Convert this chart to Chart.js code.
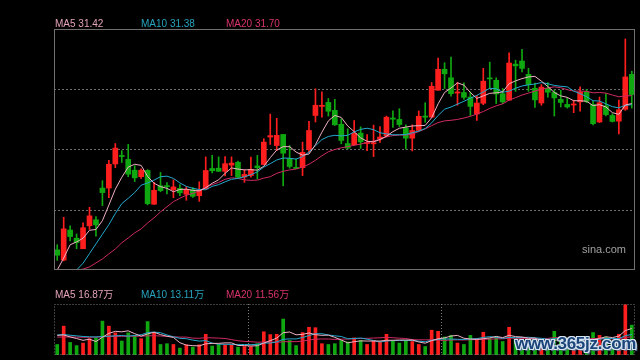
<!DOCTYPE html>
<html>
<head>
<meta charset="utf-8">
<script src="https://cdn.jsdelivr.net/npm/chart.js@4.4.1/dist/chart.umd.min.js"></script>
<style>
html,body{margin:0;padding:0;background:#000;}
#wrap{position:relative;width:640px;height:360px;overflow:hidden;background:#000;font-family:"Liberation Sans",Arial,"Noto Sans CJK SC",sans-serif;}
canvas{position:absolute;left:0;}
#main{top:0;}
#vol{top:285px;}
.lg{position:absolute;font-size:10px;line-height:10px;white-space:nowrap;}
.c5{color:#e3a2b6;} .c10{color:#27a3bd;} .c20{color:#d8336c;}
#sina{position:absolute;left:582px;top:244px;font-size:11px;line-height:11px;color:#a0a0a0;}
#mark{position:absolute;left:515px;top:335px;font:bold 17px "Liberation Sans",Arial,sans-serif;line-height:18px;color:#1b4478;letter-spacing:-0.3px;
  text-shadow:1px 1px 0 #d5e3f1,-1px -1px 0 #d5e3f1,1px -1px 0 #d5e3f1,-1px 1px 0 #d5e3f1,0 1px 0 #d5e3f1,0 -1px 0 #d5e3f1,1px 0 0 #d5e3f1,-1px 0 0 #d5e3f1,2px 2px 1px #5a7390;}
</style>
</head>
<body>
<div id="wrap">
  <canvas id="main" width="640" height="280"></canvas>
  <canvas id="vol" width="640" height="75"></canvas>
  <div class="lg c5"  style="left:55px;top:19px">MA5 31.42</div>
  <div class="lg c10" style="left:141px;top:19px">MA10 31.38</div>
  <div class="lg c20" style="left:226px;top:19px">MA20 31.70</div>
  <div class="lg c5"  style="left:55px;top:290px">MA5 16.87万</div>
  <div class="lg c10" style="left:141px;top:290px">MA10 13.11万</div>
  <div class="lg c20" style="left:226px;top:290px">MA20 11.56万</div>
  <div id="sina">sina.com</div>
  <div id="mark">www.365jz.com</div>
</div>
<script>
/* ===== 日K数据 (元) ===== */
const open = [
  26.26,25.90,26.96,26.67,26.30,27.11,27.32,28.44,28.44,29.29,
  29.59,29.45,29.07,28.84,29.06,27.87,28.52,28.52,28.38,28.43,
  28.22,28.38,28.17,28.41,29.13,29.14,29.03,29.25,29.35,28.83,
  28.88,29.22,29.27,30.24,29.94,30.33,29.48,29.17,29.16,29.80,
  31.00,31.32,31.46,31.18,30.69,30.01,29.97,30.38,30.01,30.00,
  30.17,30.28,30.91,30.86,30.56,30.20,30.47,30.98,30.94,31.89,
  32.63,32.33,31.79,31.81,31.65,31.05,31.43,32.32,32.24,31.77,
  31.54,32.81,32.92,32.45,31.96,31.44,31.95,31.81,31.57,31.39,
  31.37,31.48,31.83,31.39,30.77,31.34,31.00,30.80,31.22,32.45];
const close = [
  26.07,27.00,26.73,26.52,27.04,27.46,27.14,28.28,29.28,29.85,
  29.55,28.93,28.80,29.07,27.89,28.36,28.35,28.49,28.48,28.27,
  28.39,28.15,28.38,29.06,29.05,29.03,29.30,29.32,28.82,28.92,
  29.10,29.16,30.06,30.29,30.30,29.67,29.20,29.13,29.70,30.47,
  31.36,31.36,31.15,30.67,30.12,29.85,30.37,30.07,30.05,30.04,
  30.24,30.94,30.87,30.68,30.20,30.47,30.97,30.94,32.03,32.63,
  32.47,31.77,31.83,31.64,31.32,31.44,32.21,32.29,31.76,31.48,
  32.85,32.75,32.66,32.09,31.55,32.00,31.82,31.62,31.46,31.30,
  31.39,31.83,31.50,30.71,31.45,31.03,30.79,31.20,32.36,31.74];
const high = [
  26.44,27.41,27.11,26.82,27.21,27.76,27.43,28.70,29.42,30.01,
  29.76,29.98,29.23,29.12,29.09,28.64,28.99,28.63,28.73,28.56,
  28.49,28.46,28.66,29.54,29.59,29.54,29.55,29.54,29.39,29.09,
  29.53,29.59,30.18,31.05,30.90,30.33,29.94,29.47,30.06,30.79,
  31.94,31.83,31.60,31.57,30.88,30.53,30.82,30.60,30.33,30.66,
  30.61,30.98,31.16,31.24,30.67,30.67,31.16,31.45,32.16,33.02,
  32.86,33.06,32.17,32.15,31.83,31.71,32.66,32.88,32.33,31.95,
  33.21,32.95,33.33,32.66,32.14,32.09,32.16,31.90,31.89,31.62,
  31.54,32.01,31.92,31.50,31.65,31.77,31.06,31.54,33.70,32.56];
const low = [
  25.89,25.87,26.58,26.30,26.30,26.98,26.74,27.82,28.10,29.16,
  29.34,28.84,28.67,28.78,27.85,27.86,28.31,28.23,28.10,28.17,
  28.01,28.11,27.97,28.41,28.97,29.03,28.87,28.88,28.77,28.64,
  28.82,28.76,29.27,29.98,29.76,28.52,29.14,29.12,28.88,29.70,
  30.77,30.94,30.98,30.65,30.00,29.82,29.94,29.84,29.76,29.55,
  30.05,30.24,30.58,30.61,29.82,29.75,30.46,30.76,30.94,31.89,
  31.95,31.68,31.36,31.57,31.00,30.83,31.38,31.95,31.42,31.42,
  31.54,31.85,32.54,31.85,31.28,31.36,31.65,30.98,31.30,31.26,
  31.10,31.15,31.45,30.67,30.75,30.98,30.77,30.35,31.18,31.26];

/* 均线 */
const ma5 = [
  25.55,25.97,26.44,26.54,26.67,26.95,26.98,27.29,27.84,28.40,
  28.82,29.18,29.28,29.24,28.85,28.61,28.49,28.43,28.31,28.39,
  28.40,28.36,28.34,28.45,28.61,28.73,28.96,29.15,29.11,29.08,
  29.09,29.07,29.21,29.51,29.78,29.90,29.90,29.71,29.60,29.64,
  29.97,30.41,30.81,31.00,30.93,30.63,30.43,30.21,30.09,30.07,
  30.15,30.27,30.43,30.55,30.59,30.63,30.64,30.65,30.92,31.41,
  31.81,31.97,32.15,32.07,31.81,31.60,31.69,31.78,31.80,31.83,
  32.12,32.22,32.30,32.36,32.38,32.21,32.02,31.81,31.69,31.64,
  31.52,31.52,31.50,31.35,31.38,31.30,31.10,31.04,31.37,31.42];
const ma10 = [
  25.55,25.55,25.55,25.55,25.79,26.13,26.47,26.81,27.15,27.54,
  27.89,28.08,28.28,28.54,28.62,28.72,28.84,28.86,28.78,28.62,
  28.50,28.43,28.39,28.38,28.50,28.56,28.66,28.75,28.78,28.84,
  28.91,29.01,29.18,29.30,29.43,29.50,29.49,29.46,29.55,29.71,
  29.93,30.15,30.26,30.30,30.28,30.30,30.42,30.51,30.55,30.50,
  30.39,30.35,30.32,30.32,30.33,30.39,30.45,30.54,30.74,31.00,
  31.22,31.30,31.40,31.50,31.61,31.71,31.83,31.96,31.94,31.82,
  31.86,31.96,32.04,32.08,32.11,32.16,32.12,32.06,32.03,32.01,
  31.86,31.77,31.66,31.52,31.51,31.41,31.31,31.27,31.36,31.38];
const ma20 = [
  25.55,25.55,25.55,25.55,25.58,25.66,25.80,25.94,26.12,26.29,
  26.51,26.68,26.86,27.00,27.21,27.39,27.60,27.78,27.96,28.08,
  28.19,28.25,28.34,28.47,28.56,28.64,28.75,28.80,28.78,28.73,
  28.71,28.72,28.79,28.84,28.96,29.03,29.08,29.11,29.18,29.28,
  29.42,29.58,29.72,29.80,29.86,29.90,29.95,29.99,30.05,30.10,
  30.16,30.25,30.29,30.31,30.31,30.35,30.43,30.53,30.64,30.75,
  30.81,30.83,30.86,30.91,30.97,31.05,31.14,31.25,31.34,31.41,
  31.54,31.63,31.72,31.79,31.86,31.93,31.97,32.01,31.98,31.91,
  31.86,31.86,31.85,31.80,31.81,31.79,31.72,31.66,31.69,31.70];

/* 成交量 (万手) */
const volume = [
  6.7,18.4,8.0,6.0,7.6,10.4,10.9,21.6,18.4,14.1,
  8.9,14.1,12.5,10.4,21.3,14.1,6.7,7.2,6.7,4.4,
  6.5,5.0,6.5,13.2,5.7,6.7,6.5,6.5,5.0,5.4,
  5.4,7.2,14.8,13.0,13.2,22.9,9.3,6.0,14.3,17.7,
  17.4,7.2,6.7,7.2,9.3,8.3,10.9,9.3,6.7,9.3,
  8.3,13.2,9.3,7.6,9.3,8.6,6.7,5.4,15.8,15.1,
  11.5,12.5,7.6,6.7,12.5,10.4,14.5,10.4,11.5,8.6,
  17.7,10.4,9.1,7.8,9.1,7.2,7.8,15.1,9.8,7.8,
  6.5,11.1,8.5,14.3,12.5,11.5,8.7,13.2,32.0,19.0];
const volMa5 = [
  12.5,12.8,11.5,10.5,9.34,10.08,8.58,11.3,13.78,15.08,
  14.78,15.42,13.6,12.0,13.44,14.48,13.0,11.94,11.2,7.82,
  6.3,5.96,5.82,7.12,7.38,7.42,7.72,7.72,6.08,6.02,
  5.76,5.9,7.56,9.16,10.72,14.22,14.64,12.88,13.14,14.04,
  12.94,12.52,12.66,11.24,9.56,7.74,8.48,9.0,8.9,8.9,
  8.9,9.36,9.36,9.54,9.54,9.6,8.3,7.52,9.16,10.32,
  10.9,12.06,12.5,10.68,10.16,9.94,10.34,10.9,11.86,11.08,
  12.54,11.72,11.46,10.72,10.82,8.72,8.2,9.4,9.8,9.54,
  9.4,10.06,8.74,9.64,10.58,11.58,11.1,12.04,15.58,16.87];
const volMa10 = [
  12.8,13.0,12.6,12.2,11.8,11.6,11.5,11.8,12.0,12.21,
  12.43,12.0,12.45,12.89,14.26,14.63,14.21,12.77,11.6,10.63,
  10.39,9.48,8.88,9.16,7.6,6.86,6.84,6.77,6.6,6.7,
  6.59,6.81,7.64,7.62,8.37,9.99,10.27,10.22,11.15,12.38,
  13.58,13.58,12.77,12.19,11.8,10.34,10.5,10.83,10.07,9.23,
  8.32,8.92,9.18,9.22,9.22,9.25,8.83,8.44,9.35,9.93,
  10.25,10.18,10.01,9.92,10.24,10.42,11.2,11.7,11.27,10.62,
  11.24,11.03,11.18,11.29,10.95,10.63,9.96,10.43,10.26,10.18,
  9.06,9.13,9.07,9.72,10.06,10.49,10.58,10.39,12.3,13.11];
const volMa20 = [
  11.4,11.5,11.5,11.4,11.3,11.3,11.4,11.6,11.8,11.9,
  11.9,12.0,12.0,12.0,12.2,12.3,12.1,11.9,11.6,11.42,
  11.41,10.74,10.67,11.03,10.93,10.75,10.53,9.77,9.1,8.67,
  8.49,8.15,8.26,8.39,7.99,8.43,8.56,8.5,8.88,9.54,
  10.09,10.2,10.21,9.91,10.09,10.17,10.39,10.53,10.61,10.81,
  10.95,11.25,10.98,10.71,10.51,9.8,9.67,9.64,9.71,9.58,
  9.29,9.55,9.6,9.57,9.73,9.84,10.02,10.07,10.31,10.28,
  10.75,10.61,10.6,10.61,10.6,10.53,10.58,11.07,10.77,10.4,
  10.15,10.08,10.13,10.51,10.51,10.56,10.27,10.41,11.2,11.56];

const days = open.map((_, i) => String(i + 1));
const priceGrid = [27.67, 29.80, 31.92];
const volSplits = [29.5, 59.5];

/* ===== 样式 ===== */
const RED = "#ff1e1e", GREEN = "#10a810";
const C_MA5 = "#eeb0c2", C_MA10 = "#22a9cc", C_MA20 = "#cc2a62";
const colors = close.map((c, i) => c >= open[i] ? RED : GREEN);

/* 边框 + 网格 */
const framePlugin = {
  id: "frame",
  beforeDatasetsDraw(chart, args, o) {
    const {ctx, chartArea: a, scales} = chart;
    ctx.save();
    ctx.strokeStyle = o.gridColor; ctx.lineWidth = 1; ctx.setLineDash(o.dash);
    (o.hLines || []).forEach(v => {
      const y = Math.round(scales.y.getPixelForValue(v)) + 0.5;
      ctx.beginPath(); ctx.moveTo(a.left, y); ctx.lineTo(a.right, y); ctx.stroke();
    });
    (o.vLines || []).forEach(v => {
      const x = Math.round(scales.x.getPixelForValue(v)) + 0.5;
      ctx.beginPath(); ctx.moveTo(x, a.top); ctx.lineTo(x, a.bottom); ctx.stroke();
    });
    ctx.restore();
  },
  afterDraw(chart, args, o) {
    const {ctx, chartArea: a} = chart;
    ctx.save();
    ctx.strokeStyle = o.borderColor; ctx.lineWidth = 1; ctx.setLineDash(o.borderDash || []);
    ctx.strokeRect(a.left + 0.5, a.top + 0.5, a.right - a.left - 1, a.bottom - a.top - 1);
    ctx.restore();
  }
};

const line = (label, data, color, order) => ({
  type: "line", label, data, borderColor: color, borderWidth: 1,
  pointRadius: 0, tension: 0, fill: false, order
});

/* ===== K线 ===== */
new Chart(document.getElementById("main"), {
  type: "bar",
  data: {
    labels: days,
    datasets: [
      line("MA5", ma5, C_MA5, 0),
      line("MA10", ma10, C_MA10, 0),
      line("MA20", ma20, C_MA20, 0),
      {label: "body", data: open.map((o, i) => [o, close[i]]), backgroundColor: colors,
       barThickness: 5, minBarLength: 1, grouped: false, borderWidth: 0, order: 1},
      {label: "wick", data: low.map((l, i) => [l, high[i]]), backgroundColor: colors,
       barThickness: 1, grouped: false, borderWidth: 0, order: 2}
    ]
  },
  options: {
    responsive: false, animation: false, devicePixelRatio: 1,
    layout: {padding: {left: 54, right: 5, top: 29, bottom: 10}},
    plugins: {
      legend: {display: false}, tooltip: {enabled: false},
      frame: {gridColor: "#6e6e6e", dash: [2, 2], hLines: priceGrid, borderColor: "#707070"}
    },
    scales: {
      x: {display: false, offset: true},
      y: {display: false, min: 25.55, max: 34.05}
    }
  },
  plugins: [framePlugin]
});

/* ===== 成交量 ===== */
new Chart(document.getElementById("vol"), {
  type: "bar",
  data: {
    labels: days,
    datasets: [
      line("MA5", volMa5, C_MA5, 0),
      line("MA10", volMa10, C_MA10, 0),
      line("MA20", volMa20, C_MA20, 0),
      {label: "vol", data: volume, backgroundColor: colors, barThickness: 3,
       grouped: false, borderWidth: 0, order: 1}
    ]
  },
  options: {
    responsive: false, animation: false, devicePixelRatio: 1,
    layout: {padding: {left: 54, right: 5, top: 19, bottom: 5}},
    plugins: {
      legend: {display: false}, tooltip: {enabled: false},
      frame: {gridColor: "#7a7a7a", dash: [1, 2], vLines: volSplits, borderColor: "#7a7a7a", borderDash: [1, 2]}
    },
    scales: {
      x: {display: false, offset: true},
      y: {display: false, min: 0, max: 32.5}
    }
  },
  plugins: [framePlugin]
});
</script>
</body>
</html>
